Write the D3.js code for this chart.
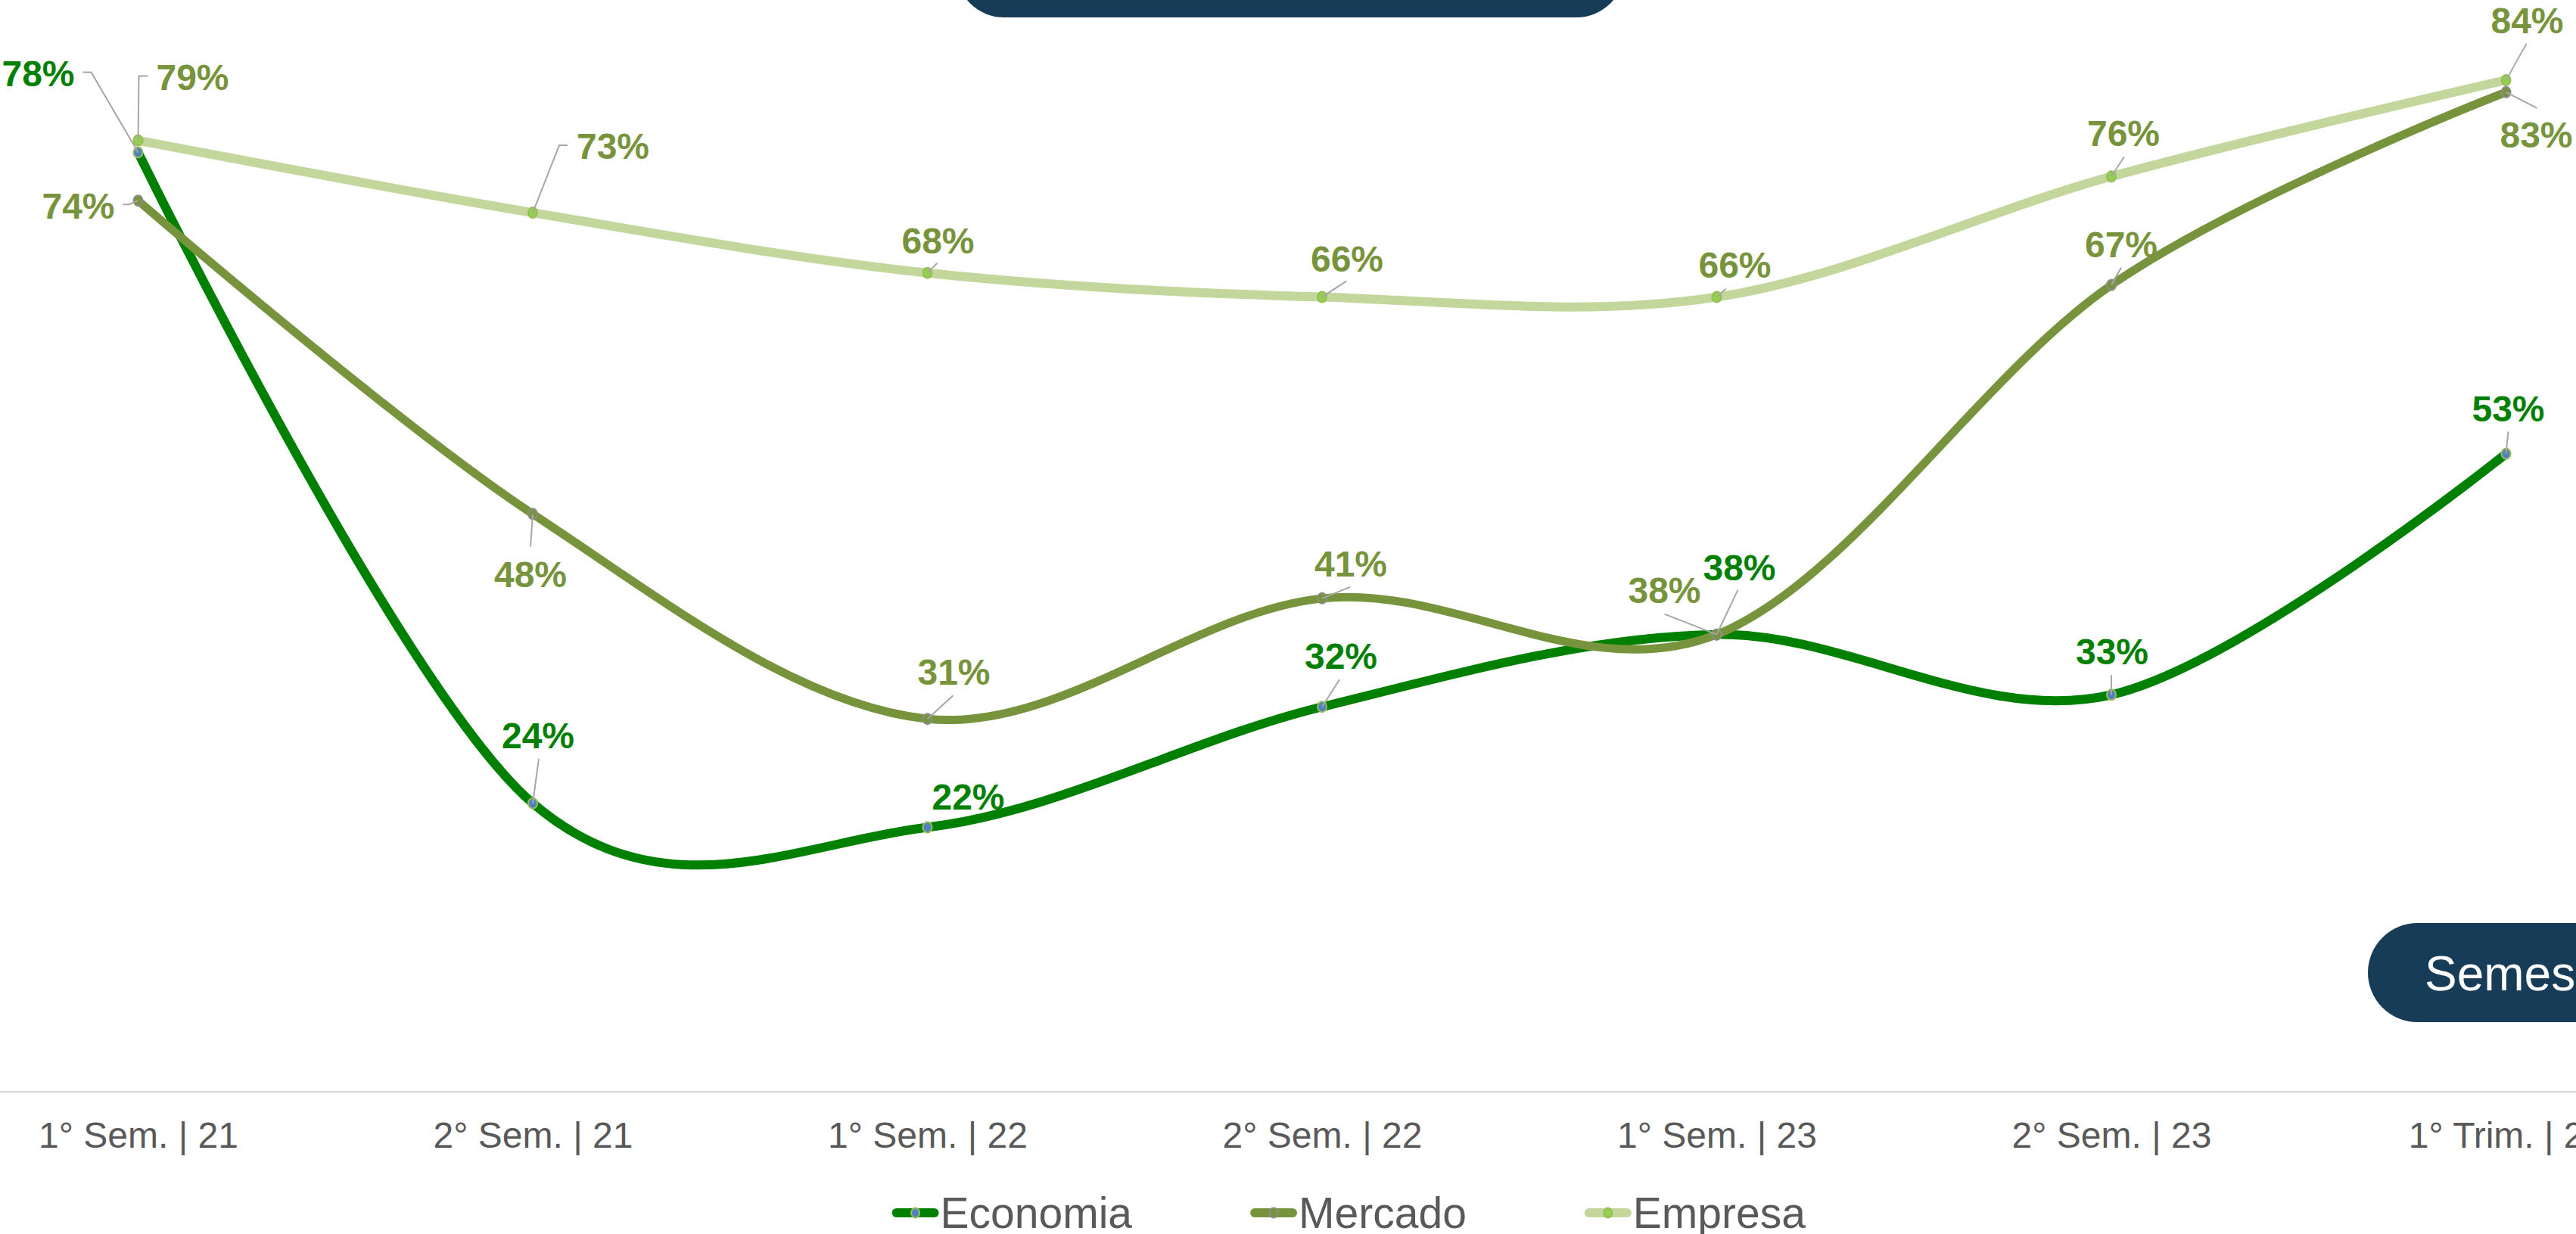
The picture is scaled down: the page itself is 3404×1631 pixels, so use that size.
<!DOCTYPE html>
<html>
<head>
<meta charset="utf-8">
<script src="https://cdn.jsdelivr.net/npm/d3@7"></script>
<style>
  html, body { margin: 0; padding: 0; background: #ffffff; overflow: hidden; }
  svg { display: block; font-family: "Liberation Sans", Arial, sans-serif; }
</style>
</head>
<body>
<svg id="chart" width="3404" height="1631"></svg>
<script>
// ---- data ----
const categories = ["1° Sem. | 21", "2° Sem. | 21", "1° Sem. | 22", "2° Sem. | 22", "1° Sem. | 23", "2° Sem. | 23", "1° Trim. | 23"];
const economia = [78, 24, 22, 32, 38, 33, 53];
const mercado  = [74, 48, 31, 41, 38, 67, 83];
const empresa  = [79, 73, 68, 66, 66, 76, 84];
const seriesNames = ["Economia", "Mercado", "Empresa"];
const buttonLabel = "Semestral";

// ---- layout (label placement: text dx, baseline dy, leader points relative to marker) ----
const labelLayout = {
  Economia: [
    {dx: -132, dy: -87, leader: [[-62, -106], [-73, -106]]},
    {dx: 7, dy: -73, leader: [[8, -59]]},
    {dx: 54, dy: -24, leader: []},
    {dx: 25, dy: -50, leader: [[23, -36]]},
    {dx: 30, dy: -72, leader: [[28, -59]]},
    {dx: 1, dy: -40, leader: [[0, -26]]},
    {dx: 3, dy: -43, leader: [[3, -29]]}
  ],
  Mercado: [
    {dx: -79, dy: 24, leader: [[-12, 5], [-20, 5]]},
    {dx: -3, dy: 97, leader: [[-3, 43]]},
    {dx: 35, dy: -45, leader: [[34, -31]]},
    {dx: 38, dy: -29, leader: [[37, -15]]},
    {dx: -69, dy: -42, leader: [[-69, -27]]},
    {dx: 13, dy: -37, leader: [[13, -23]]},
    {dx: 40, dy: 73, leader: [[41, 21]]}
  ],
  Empresa: [
    {dx: 72, dy: -67, leader: [[1, -85], [13, -85]]},
    {dx: 106, dy: -71, leader: [[35, -89], [46, -89]]},
    {dx: 14, dy: -26, leader: [[13, -13]]},
    {dx: 33, dy: -34, leader: [[32, -21]]},
    {dx: 24, dy: -26, leader: [[12, -11]]},
    {dx: 16, dy: -40, leader: [[17, -26]]},
    {dx: 28, dy: -62, leader: [[27, -48]]}
  ]
};

const styles = {
  Economia: {line: "#008000", width: 12, label: "#008000", mFill: "#4F81BD", mStroke: "#9BBB59"},
  Mercado:  {line: "#77933C", width: 11, label: "#77933C", mFill: "#77933C", mStroke: "#8C8C8C"},
  Empresa:  {line: "#C3D69B", width: 12, label: "#77933C", mFill: "#92D050", mStroke: "#9BBB59"}
};

const seriesValues = {Economia: economia, Mercado: mercado, Empresa: empresa};

const svg = d3.select("#chart");

// scales
const x = d3.scalePoint().domain(categories).range([182.5, 3311.5]);
const y = d3.scaleLinear().domain([0, 100]).range([1444, -149]);

// top banner (cut off)
svg.append("rect")
  .attr("x", 1263).attr("y", -105).attr("width", 884).attr("height", 128)
  .attr("rx", 64).attr("ry", 64).attr("fill", "#173C58");

// x axis
const xAxis = d3.axisBottom(x).tickSize(0).tickPadding(0);
const gx = svg.append("g").attr("transform", `translate(0, ${y(0)})`).call(xAxis);
gx.select(".domain").remove();
gx.selectAll("text")
  .attr("y", 73).attr("dy", 0)
  .attr("fill", "#595959")
  .style("font-size", "48px")
  .style("font-family", "'Liberation Sans', Arial, sans-serif");
svg.append("line")
  .attr("x1", 0).attr("x2", 3404)
  .attr("y1", y(0) - 1).attr("y2", y(0) - 1)
  .attr("stroke", "#D9D9D9").attr("stroke-width", 2.5);

// button bottom-right
svg.append("rect")
  .attr("x", 3129).attr("y", 1220).attr("width", 500).attr("height", 131)
  .attr("rx", 65.5).attr("ry", 65.5).attr("fill", "#173C58");
svg.append("text")
  .attr("x", 3204).attr("y", 1309)
  .attr("fill", "#ffffff")
  .style("font-size", "64px")
  .text(buttonLabel);

// lines
const lineGen = d3.line()
  .x((d, i) => x(categories[i]))
  .y(d => y(d))
  .curve(d3.curveCardinal.tension(0));

seriesNames.forEach(name => {
  const st = styles[name];
  svg.append("path")
    .datum(seriesValues[name])
    .attr("d", lineGen)
    .attr("fill", "none")
    .attr("stroke", st.line)
    .attr("stroke-width", st.width)
    .attr("stroke-linecap", "round")
    .attr("stroke-linejoin", "round");
});

// markers
seriesNames.forEach(name => {
  const st = styles[name];
  svg.append("g").selectAll("ellipse")
    .data(seriesValues[name])
    .join("ellipse")
    .attr("cx", (d, i) => x(categories[i]))
    .attr("cy", d => y(d))
    .attr("rx", 6).attr("ry", 7)
    .attr("fill", st.mFill)
    .attr("stroke", st.mStroke)
    .attr("stroke-width", 2);
});

// leaders and labels
seriesNames.forEach(name => {
  const st = styles[name];
  const vals = seriesValues[name];
  vals.forEach((v, i) => {
    const px = x(categories[i]), py = y(v);
    const lay = labelLayout[name][i];
    if (lay.leader.length) {
      const pts = [[px, py]].concat(lay.leader.map(p => [px + p[0], py + p[1]]));
      svg.append("path")
        .attr("d", d3.line()(pts))
        .attr("fill", "none")
        .attr("stroke", "#A6A6A6")
        .attr("stroke-width", 2);
    }
    svg.append("text")
      .attr("x", px + lay.dx)
      .attr("y", py + lay.dy)
      .attr("text-anchor", "middle")
      .attr("fill", st.label)
      .style("font-size", "48px")
      .style("font-weight", "bold")
      .text(v + "%");
  });
});

// legend
const legend = svg.append("g");
let lx = 1178.6;
const ly = 1603;
seriesNames.forEach(name => {
  const st = styles[name];
  const g = legend.append("g");
  g.append("line")
    .attr("x1", lx + 6).attr("x2", lx + 56)
    .attr("y1", ly).attr("y2", ly)
    .attr("stroke", st.line).attr("stroke-width", 12)
    .attr("stroke-linecap", "round");
  g.append("ellipse")
    .attr("cx", lx + 31).attr("cy", ly)
    .attr("rx", 5.5).attr("ry", 6.5)
    .attr("fill", st.mFill).attr("stroke", st.mStroke).attr("stroke-width", 2);
  const t = g.append("text")
    .attr("x", lx + 64).attr("y", 1622.7)
    .attr("fill", "#595959")
    .style("font-size", "57px")
    .text(name);
  const w = t.node().getComputedTextLength();
  lx = lx + 64 + w + 156;
});
</script>
</body>
</html>
